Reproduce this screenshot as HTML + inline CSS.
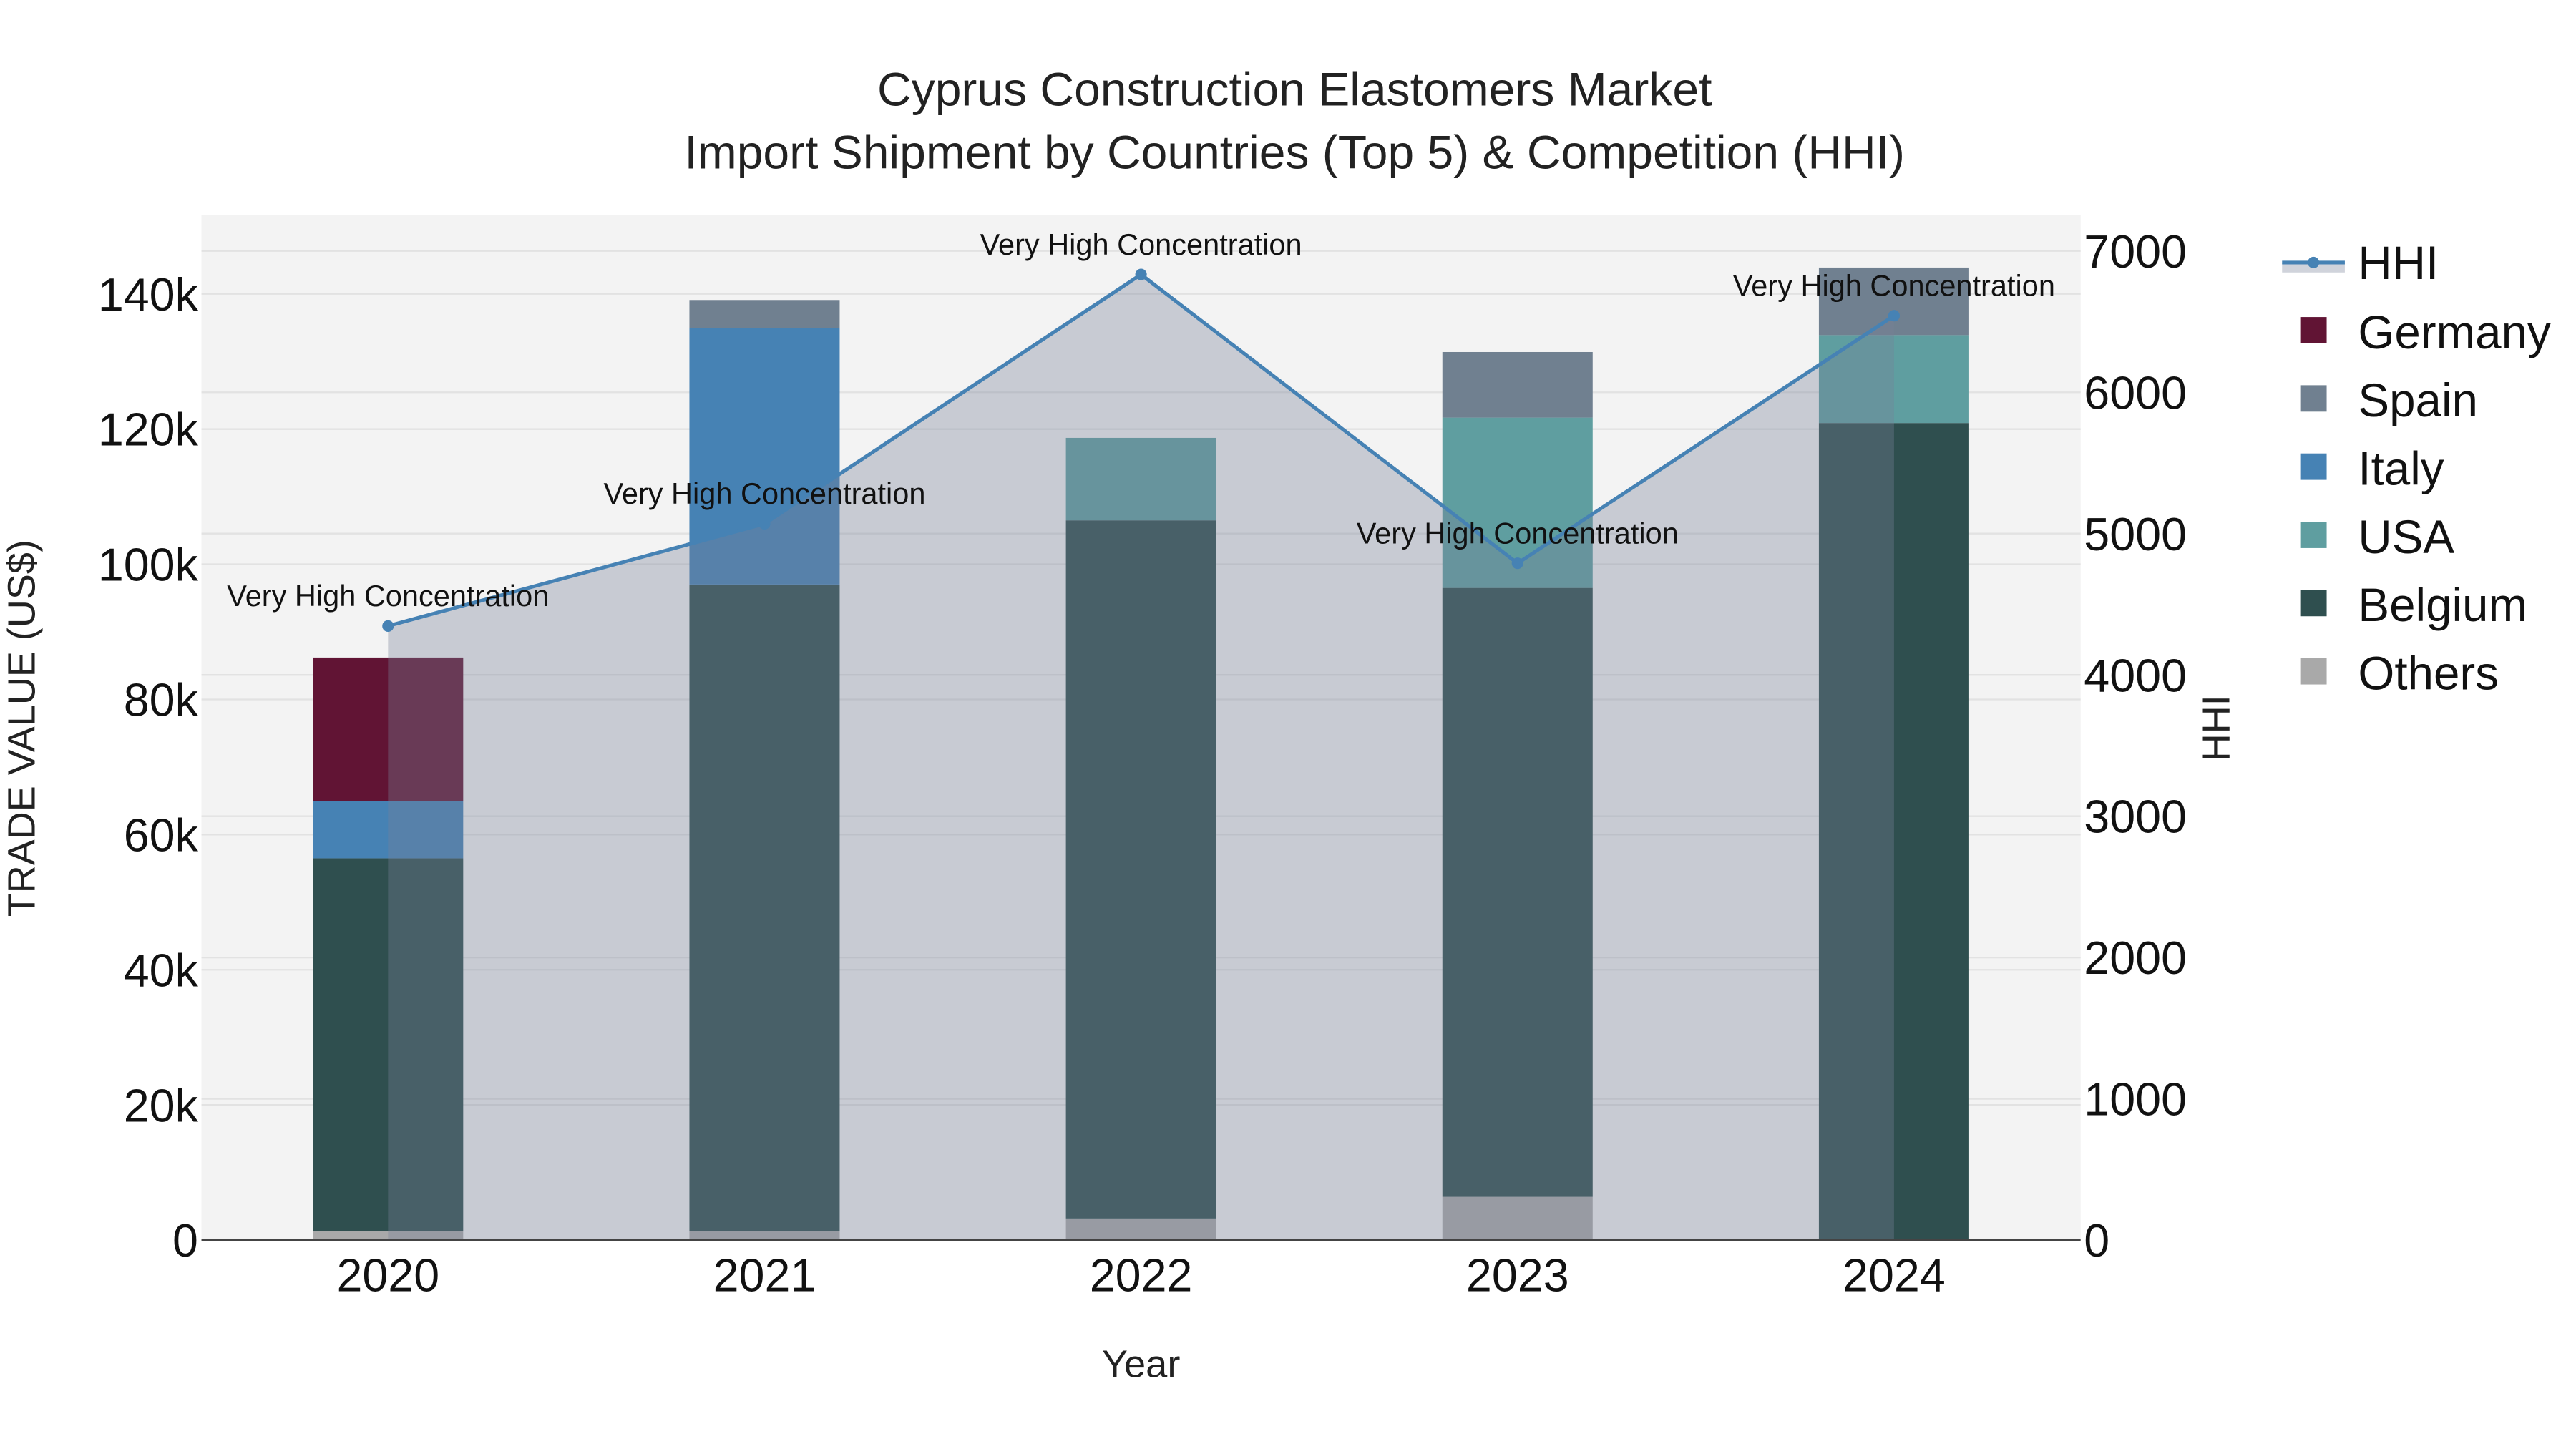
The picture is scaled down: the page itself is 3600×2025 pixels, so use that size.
<!DOCTYPE html>
<html><head><meta charset="utf-8">
<style>html,body{margin:0;padding:0;background:#fff;}svg{display:block;font-family:"Liberation Sans",Arial,sans-serif;}</style>
</head><body>
<svg id="chart" width="3600" height="2025" viewBox="0 0 1560 877.5" xmlns="http://www.w3.org/2000/svg">
<rect x="0" y="0" width="1560" height="877.5" fill="#ffffff"/>
<rect x="122" y="130" width="1138" height="621" fill="#f3f3f3"/>
<g id="grid"></g>
<g id="bars"></g>
<g id="hhi"></g>
<g id="axes"></g>
<text x="784" y="64" text-anchor="middle" font-size="28.6" fill="#222">Cyprus Construction Elastomers Market</text>
<text x="784" y="102" text-anchor="middle" font-size="28.6" fill="#222">Import Shipment by Countries (Top 5) &amp; Competition (HHI)</text>
<text x="691" y="834" text-anchor="middle" font-size="23.5" fill="#222">Year</text>
<text transform="translate(21,441) rotate(-90)" text-anchor="middle" font-size="23.4" fill="#222">TRADE VALUE (US$)</text>
<text transform="translate(1350,441) rotate(-90)" text-anchor="middle" font-size="23.4" fill="#222">HHI</text>
<g id="legend"></g>
</svg>
<script>
const years = ["2020","2021","2022","2023","2024"];
const seriesNames = ["Others","Belgium","USA","Italy","Spain","Germany"];
const seriesColors = ["#a9a9a9","#2f4f4f","#5f9ea0","#4682b4","#708090","#611434"];
const others  = [1300, 1300, 3200, 6400, 0];
const belgium = [55200, 95700, 103300, 90100, 120900];
const usa     = [0, 0, 12200, 25200, 13000];
const italy   = [8500, 37900, 0, 0, 0];
const spain   = [0, 4200, 0, 9700, 10000];
const germany = [21200, 0, 0, 0, 0];
const hhi = [4346, 5070, 6834, 4790, 6542];
const hhiLabels = ["Very High Concentration","Very High Concentration","Very High Concentration","Very High Concentration","Very High Concentration"];
const leftTicks = [0,20000,40000,60000,80000,100000,120000,140000];
const leftTickLabels = ["0","20k","40k","60k","80k","100k","120k","140k"];
const rightTicks = [0,1000,2000,3000,4000,5000,6000,7000];
const rightTickLabels = ["0","1000","2000","3000","4000","5000","6000","7000"];

const NS="http://www.w3.org/2000/svg";
const X0=235, DX=228, BW=91, Y0=751;
function xPos(i){return X0+DX*i;}
function yL(v){return Y0 - v*(573/140000);}
function yR(h){return Y0 - h*(599/7000);}
function mk(tag,attrs,parent){const e=document.createElementNS(NS,tag);for(const k in attrs)e.setAttribute(k,attrs[k]);parent.appendChild(e);return e;}

const grid=document.getElementById('grid');
leftTicks.forEach((t,i)=>{ if(t===0)return;
  const l=mk('line',{x1:122,x2:1260,y1:yL(t),y2:yL(t),stroke:'#e2e2e2','stroke-width':1},grid);
  
  
});
rightTicks.forEach((t,i)=>{ if(t===0)return;
  const l=mk('line',{x1:122,x2:1260,y1:yR(t),y2:yR(t),stroke:'#e2e2e2','stroke-width':1},grid);
  
  
});

const bars=document.getElementById('bars');
const series=[others,belgium,usa,italy,spain,germany];
years.forEach((yr,i)=>{
  let base=0;
  series.forEach((s,k)=>{
    const v=s[i]; if(!v)return;
    const r=mk('rect',{x:xPos(i)-BW/2,y:yL(base+v),width:BW,height:yL(base)-yL(base+v),fill:seriesColors[k]},bars);
    
    
    base+=v;
  });
});

const hg=document.getElementById('hhi');
let pts=hhi.map((h,i)=>xPos(i)+','+yR(h)).join(' ');
const area=mk('polygon',{points:xPos(0)+','+Y0+' '+pts+' '+xPos(hhi.length-1)+','+Y0,fill:'rgba(119,130,151,0.35)'},hg);


const line=mk('polyline',{points:pts,fill:'none',stroke:'#4682b4','stroke-width':2.2},hg);


hhi.forEach((h,i)=>{
  const c=mk('circle',{cx:xPos(i),cy:yR(h),r:3.5,fill:'#4682b4'},hg);
  
  
  const t=mk('text',{x:xPos(i),y:yR(h)-12,'text-anchor':'middle','font-size':18,fill:'#111'},hg);
  t.textContent=hhiLabels[i];
  
  
});

const ax=document.getElementById('axes');
const base=mk('line',{x1:122,x2:1260,y1:Y0,y2:Y0,stroke:'#444','stroke-width':1.2},ax);


leftTicks.forEach((t,i)=>{
  const e=mk('text',{x:120,y:yL(t)+10,'text-anchor':'end','font-size':28,fill:'#111'},ax);
  e.textContent=leftTickLabels[i];
  
  
});
rightTicks.forEach((t,i)=>{
  const e=mk('text',{x:1262,y:yR(t)+10,'text-anchor':'start','font-size':28,fill:'#111'},ax);
  e.textContent=rightTickLabels[i];
  
  
});
years.forEach((yr,i)=>{
  const e=mk('text',{x:xPos(i),y:782,'text-anchor':'middle','font-size':28,fill:'#111'},ax);
  e.textContent=yr;
  
  
});

const lg=document.getElementById('legend');
const hl=mk('rect',{x:1382,y:159,width:38,height:6,fill:'rgba(119,130,151,0.35)'},lg);


const hl2=mk('line',{x1:1382,x2:1420,y1:159,y2:159,stroke:'#4682b4','stroke-width':2.2},lg);


const hl3=mk('circle',{cx:1401,cy:159,r:3.5,fill:'#4682b4'},lg);


const ht=mk('text',{x:1428,y:169,'font-size':28.4,fill:'#111'},lg);
ht.textContent='HHI';


const legOrder=[5,4,3,2,1,0];
legOrder.forEach((k,j)=>{
  const cy=201+41.3*j;
  const r=mk('rect',{x:1393,y:cy-9,width:16,height:16,fill:seriesColors[k]},lg);
  
  
  const t=mk('text',{x:1428,y:cy+10,'font-size':28.4,fill:'#111'},lg);
  t.textContent=seriesNames[k];
  
  
});
</script>
</body></html>
